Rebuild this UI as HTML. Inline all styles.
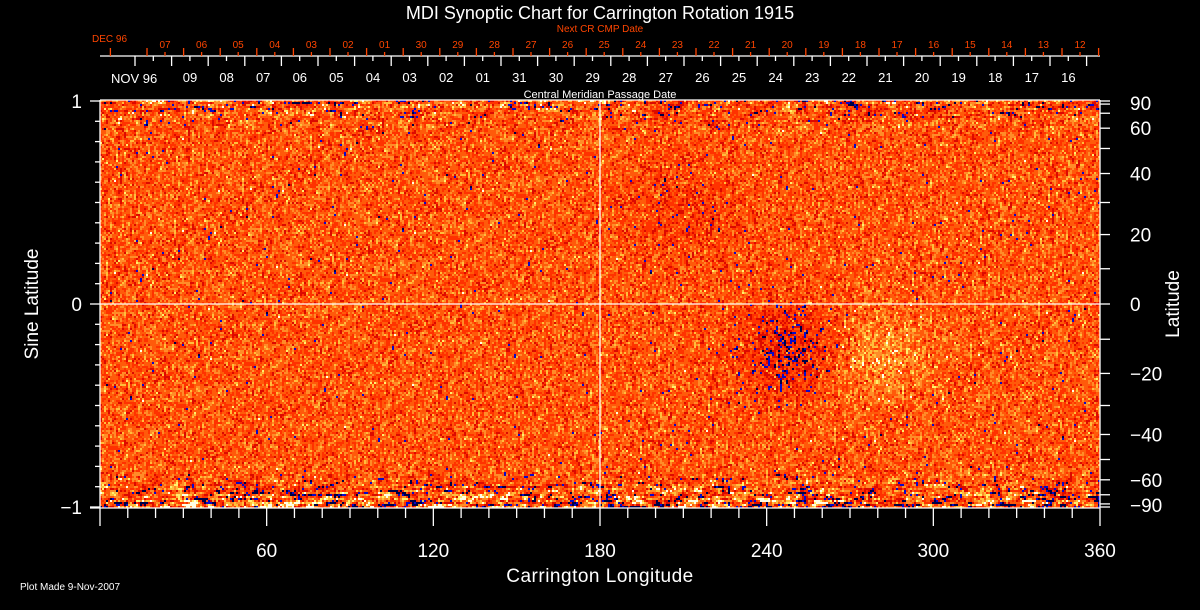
<!DOCTYPE html>
<html><head><meta charset="utf-8"><style>
html,body{margin:0;padding:0;background:#000;width:1200px;height:610px;overflow:hidden}
#wrap{position:relative;width:1200px;height:610px}
canvas{position:absolute;left:100px;top:100px;width:1000px;height:408px;image-rendering:pixelated}
svg{position:absolute;left:0;top:0}
text{font-family:"Liberation Sans",sans-serif}
</style></head><body>
<div id="wrap">
<canvas id="map" width="500" height="204"></canvas>
<svg id="ov" width="1200" height="610"></svg>
</div>
<script>
// chart data
const lonTicks = [60,120,180,240,300,360];
const sinTicks = [1,0,-1];
const latLabels = [90,60,40,20,0,-20,-40,-60,-90];
const nextCmpLabels = ["07","06","05","04","03","02","01","30","29","28","27","26","25","24","23","22","21","20","19","18","17","16","15","14","13","12"];
const cmpLabels = ["09","08","07","06","05","04","03","02","01","31","30","29","28","27","26","25","24","23","22","21","20","19","18","17","16"];
// active region features
const regionLon = [250, 278, 210];
const regionSin = [-0.22, -0.25, 0.45];
const regionStrength = [-1.3, 1.0, -0.5];

const X0=100,X1=1100,Y0=304,YS=203;
const xOf = l => X0 + (X1-X0)*l/360;
const yOf = s => Y0 - s*YS;
const NS="http://www.w3.org/2000/svg";
const svg=document.getElementById('ov');
function el(tag,attrs,name,text){
  const e=document.createElementNS(NS,tag);
  for(const k in attrs)e.setAttribute(k,attrs[k]);
  
  
  if(text!==undefined)e.textContent=text;
  svg.appendChild(e);return e;
}
function line(x1,y1,x2,y2,name,c){return el('line',{x1,y1,x2,y2,stroke:c||'#fff','stroke-width':1.3},name);}

// texture
let seed=12345;
function rnd(){seed=(seed*1103515245+12345)&0x7fffffff;return seed/0x7fffffff;}
function gauss(){return (rnd()+rnd()+rnd()+rnd()-2)*1.7;}
const cv=document.getElementById('map'),ctx=cv.getContext('2d');
const W=500,H=204,img=ctx.createImageData(W,H);
function col(f){
  if(f<-2.7)return[0,0,70];
  if(f<-2.2)return[10,10,200];
  if(f<-1.3)return[220,10,0];
  if(f<-0.3)return[255,50,0];
  if(f<0.6)return[255,90,10];
  if(f<1.4)return[255,140,40];
  if(f<2.1)return[255,190,60];
  if(f<2.6)return[255,240,110];
  return[255,255,230];
}
let prev=new Array(W).fill(0);
for(let j=0;j<H;j++){
  const s=1-2*(j+0.5)/H;
  let pol=Math.abs(s)>0.8?(Math.abs(s)-0.8)/0.2:0;
  if(s<0)pol*=1.8;
  let streak=0;
  for(let i=0;i<W;i++){
    const lon=(i+0.5)/W*360;
    streak=streak*0.75+gauss()*pol*0.8;
    let f=gauss()*0.9+prev[i]*0.2+streak*(pol>0?1:0);
    for(let r=0;r<regionLon.length;r++){
      const dl=(lon-regionLon[r])/20, ds=(s-regionSin[r])/0.22;
      const g=Math.exp(-(dl*dl+ds*ds));
      f+=regionStrength[r]*g*(0.3+1.4*rnd());
    }
    prev[i]=f;
    const c=col(f),k=(j*W+i)*4;
    img.data[k]=c[0];img.data[k+1]=c[1];img.data[k+2]=c[2];img.data[k+3]=255;
  }
}
ctx.putImageData(img,0,0);

// title
el('text',{x:600,y:19,'text-anchor':'middle','font-size':18,fill:'#fff'},'chart-title','MDI Synoptic Chart for Carrington Rotation 1915');
// top date axis
line(100,56,1100,56,'date-axis-line');
el('text',{x:600,y:32,'text-anchor':'middle','font-size':10,fill:'#ff4500'},'next-cmp-axis-title','Next CR CMP Date');
el('text',{x:92,y:42,'font-size':10,fill:'#ff4500'},'next-cmp-month','DEC 96');
el('text',{x:111,y:83,'font-size':13,fill:'#fff'},'cmp-month','NOV 96');
el('text',{x:600,y:98,'text-anchor':'middle','font-size':11,fill:'#fff'},'cmp-axis-title','Central Meridian Passage Date');
const DAY=36.6;
for(let i=0;i<=27;i++){const x=110.4+i*DAY;if(x<=1100)line(x,48,x,56,'next-cmp-tick','#ff4500');}
nextCmpLabels.forEach((t,i)=>{const x=165+i*DAY;
  line(x,52,x,56,'next-cmp-minor-tick','#ff4500');
  el('text',{x:x,y:48,'text-anchor':'middle','font-size':10,fill:'#ff4500'},'next-cmp-label',t);});
for(let i=0;i<=26;i++){const x=135+i*DAY;if(x<1100){line(x,56,x,66,'cmp-tick');const m=x+DAY/2;if(m<1100)line(m,56,m,61,'cmp-minor-tick');}}
cmpLabels.forEach((t,i)=>{const x=190+i*DAY;
  el('text',{x:x,y:82,'text-anchor':'middle','font-size':13,fill:'#fff'},'cmp-label',t);});

// plot frame
line(100,100,100,508,'left-axis');
line(1100,100,1100,508,'right-axis');
line(90,508,1100,508,'bottom-axis');
line(100,100,1100,100,'top-frame');
line(600,100,600,508,'meridian-180-line');
line(100,304,1100,304,'equator-line');
for(let k=-10;k<=10;k++){const s=k/10;const y=yOf(s);
  const major=k%10===0;line(major?90:95,y,100,y,'sine-lat-tick');}
sinTicks.forEach(s=>{el('text',{x:82,y:yOf(s)+7,'text-anchor':'end','font-size':19,fill:'#fff'},'sine-lat-label',s===-1?'\u22121':String(s));});
for(let l=-90;l<=90;l+=10){const y=yOf(Math.sin(l*Math.PI/180));line(1100,y,1110,y,'lat-tick');}
latLabels.forEach(l=>{const y=yOf(Math.sin(l*Math.PI/180))+(l===90?2:l===-90?-2:0);
  el('text',{x:1130,y:y+7,'font-size':19,fill:'#fff'},'lat-label',l<0?'\u2212'+(-l):String(l));});
for(let l=0;l<=360;l+=10){const x=xOf(l);line(x,508,x,l%60===0?526:518,'lon-tick');}
lonTicks.forEach(l=>{el('text',{x:xOf(l),y:557,'text-anchor':'middle','font-size':19,fill:'#fff'},'lon-label',String(l));});
el('text',{x:600,y:582,'text-anchor':'middle','font-size':19,fill:'#fff','letter-spacing':'0.5'},'x-axis-title','Carrington Longitude');
el('text',{x:38,y:304,'text-anchor':'middle','font-size':19,fill:'#fff',transform:'rotate(-90 38 304)'},'y-axis-title','Sine Latitude');
el('text',{x:1179,y:304,'text-anchor':'middle','font-size':19,fill:'#fff',transform:'rotate(-90 1179 304)'},'y2-axis-title','Latitude');
el('text',{x:20,y:590,'font-size':10,fill:'#fff'},'plot-made-note','Plot Made  9-Nov-2007');
</script>
</body></html>
